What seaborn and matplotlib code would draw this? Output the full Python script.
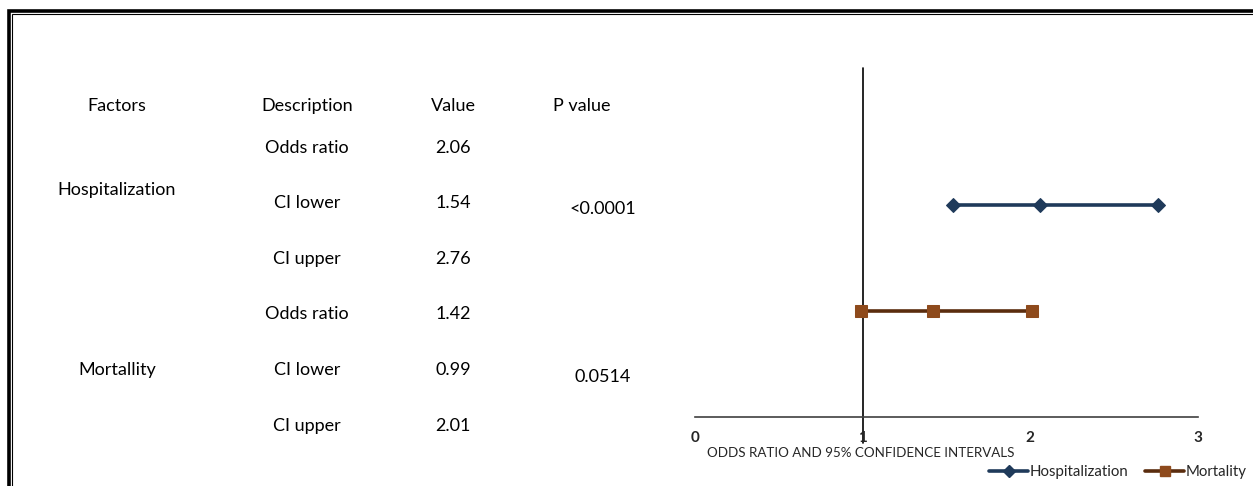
import matplotlib
matplotlib.use("Agg")
import matplotlib.pyplot as plt
from matplotlib.patches import Rectangle
from matplotlib.lines import Line2D
import seaborn as sns
import pandas as pd

# ---- data ----
factors = ["Hospitalization", "Mortality"]
table_factor_labels = ["Hospitalization", "Mortallity"]
descriptions = ["Odds ratio", "CI lower", "CI upper"]
hosp_values = [2.06, 1.54, 2.76]
mort_values = [1.42, 0.99, 2.01]
p_values = ["<0.0001", "0.0514"]
headers = ["Factors", "Description", "Value", "P value"]
x_ticks = [0, 1, 2, 3]
x_label = "ODDS RATIO AND 95% CONFIDENCE INTERVALS"

sns.set_theme(style="white")
plt.rcParams["font.family"] = ["Lato", "DejaVu Sans"]

W, H = 1253, 486
fig = plt.figure(figsize=(W / 100, H / 100), dpi=100)
fig.patch.set_facecolor("white")


def fx(px):
    return px / W


def fy(py):
    return 1 - py / H


# double frame around the figure
fig.patches.append(Rectangle((fx(8.5), fy(H + 20)), fx(W + 40), (H + 8.5) / H,
                             transform=fig.transFigure, fill=False,
                             lw=2.6, ec="black", zorder=10))
fig.patches.append(Rectangle((fx(11.5), fy(H + 20)), fx(W + 40), (H + 5.5) / H,
                             transform=fig.transFigure, fill=False,
                             lw=0.8, ec="black", zorder=10))

# ---- table on the left ----
txt_kw = dict(ha="center", va="center", fontsize=13, color="black")
col_x = [117, 307, 453, 582]
for cx, h in zip(col_x, headers):
    fig.text(fx(cx), fy(106), h, **txt_kw)

row_y = [[148, 203, 259], [314, 370, 426]]
factor_y = [190, 370]
p_y = [209, 377]
for i, vals in enumerate([hosp_values, mort_values]):
    fig.text(fx(117), fy(factor_y[i]), table_factor_labels[i], **txt_kw)
    for d, v, ry in zip(descriptions, vals, row_y[i]):
        fig.text(fx(307), fy(ry), d, **txt_kw)
        fig.text(fx(453), fy(ry), f"{v:.2f}", **txt_kw)
    fig.text(fx(603), fy(p_y[i]), p_values[i], **txt_kw)

# ---- forest plot ----
ax = fig.add_axes([fx(695), 1 - 417 / H, (1198 - 695) / W, (417 - 68) / H])
rows = []
for f, vals, ypos in zip(factors, [hosp_values, mort_values], [2, 1]):
    for v in vals:
        rows.append({"factor": f, "value": v, "ypos": ypos})
df = pd.DataFrame(rows)

palette = {"Hospitalization": "#1F3A5A", "Mortality": "#5A2C0E"}
sns.lineplot(data=df, x="value", y="ypos", hue="factor", style="factor",
             palette=palette, markers={"Hospitalization": "D", "Mortality": "s"},
             dashes=False, estimator=None, sort=True, lw=2.6, ax=ax,
             legend=False)
mfc = {"Hospitalization": "#1F3A5A", "Mortality": "#8E4A1C"}
msz = {"Hospitalization": 7.5, "Mortality": 9}
for line, f in zip(ax.lines, factors):
    line.set_markerfacecolor(mfc[f])
    line.set_markeredgecolor(mfc[f])
    line.set_markersize(msz[f])

ax.set_xlim(0, 3)
ax.set_ylim(0, 3.3)
ax.axvline(1, ymin=-26 / 349, ymax=1, color="black", lw=1.2, clip_on=False,
           zorder=0)
for s in ["top", "left", "right"]:
    ax.spines[s].set_visible(False)
ax.spines["bottom"].set_color("#404040")
ax.spines["bottom"].set_linewidth(1.2)
ax.set_yticks([])
ax.set_xticks(x_ticks)
ax.set_xticklabels([str(t) for t in x_ticks], fontsize=11, fontweight="bold",
                   color="#262626")
ax.tick_params(axis="x", length=0, pad=10)
ax.set_xlabel("")
ax.set_ylabel("")
fig.text(fx(707), fy(453), x_label, ha="left", va="center", fontsize=9.6,
         color="#262626")

# legend
handles = [Line2D([], [], color=palette[f], lw=2.6,
                  marker="D" if f == "Hospitalization" else "s",
                  markersize=msz[f] - 1.5, markerfacecolor=mfc[f],
                  markeredgecolor=mfc[f]) for f in factors]
fig.legend(handles, factors, loc="center", bbox_to_anchor=(fx(1118), fy(472)),
           ncol=2, frameon=False, fontsize=10.8, handlelength=2.6,
           handletextpad=0.1, columnspacing=1.1, borderaxespad=0)

fig.savefig("out.png", dpi=100)
